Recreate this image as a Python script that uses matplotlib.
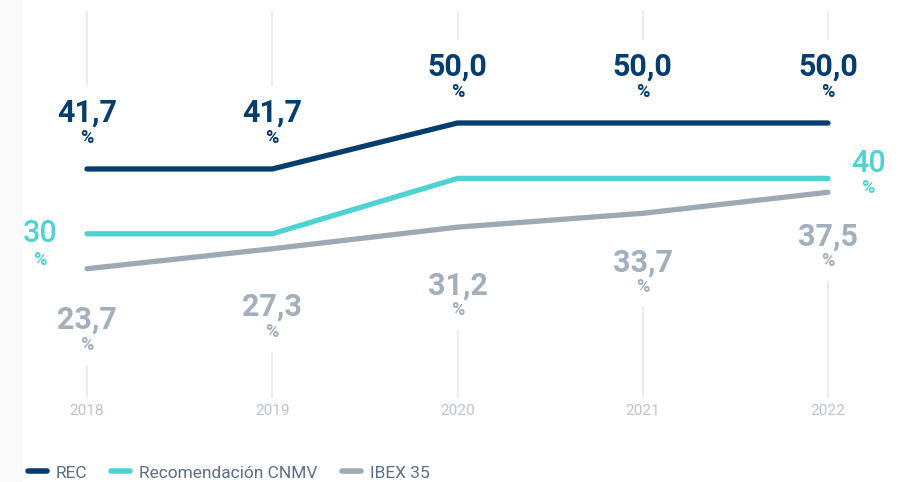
import matplotlib.pyplot as plt
from matplotlib.patches import Rectangle

# Data
years = [2018, 2019, 2020, 2021, 2022]
rec = [41.7, 41.7, 50.0, 50.0, 50.0]
cnmv = [30, 30, 40, 40, 40]
ibex = [23.7, 27.3, 31.2, 33.7, 37.5]
rec_labels = ["41,7", "41,7", "50,0", "50,0", "50,0"]
ibex_labels = ["23,7", "27,3", "31,2", "33,7", "37,5"]
cnmv_labels = ["30", "40"]

c_rec = "#053d6e"
c_cnmv = "#4fd2d2"
c_ibex = "#9ea9b5"
c_ibex_txt = "#a3afbb"
c_grid = "#e8eaec"

plt.rcParams["font.family"] = ["Roboto", "DejaVu Sans"]

fig = plt.figure(figsize=(9.11, 4.82), dpi=100)
ax = fig.add_axes([0, 0, 1, 1])
fig.patches.append(Rectangle((0, 0), 22 / 911, 1, transform=fig.transFigure,
                             color="#fafafa", zorder=0))

ppy = 185.25   # pixels per year
ppu = 5.54     # pixels per percentage point
ax.set_xlim(2018 - 87 / ppy, 2018 + 824 / ppy)
ax.set_ylim((400 - 482) / ppu, 400 / ppu)
ax.axis("off")

# below-label offsets for IBEX (px)
ibex_off = [51, 58, 58, 49, 44]

# vertical grid segments (hidden behind the labels)
for i, x in enumerate(years):
    ax.plot([x, x], [rec[i] + 84 / ppu, (400 - 12) / ppu], color=c_grid, lw=1.3, zorder=1)
    low = ibex[i] - (ibex_off[i] + 25 + 21) / ppu
    ax.plot([x, x], [low, (400 - 397) / ppu], color=c_grid, lw=1.3, zorder=1)

ax.plot(years, rec, color=c_rec, lw=3.8, solid_capstyle="round", solid_joinstyle="round",
        label="REC", zorder=3)
ax.plot(years, cnmv, color=c_cnmv, lw=3.8, solid_capstyle="round", solid_joinstyle="round",
        label="Recomendación CNMV", zorder=3)
ax.plot(years, ibex, color=c_ibex, lw=3.8, solid_capstyle="round", solid_joinstyle="round",
        label="IBEX 35", zorder=2)

# REC labels
for x, y, t in zip(years, rec, rec_labels):
    ax.text(x, y + 56 / ppu, t, color=c_rec, fontsize=22, fontweight="bold",
            ha="center", va="center")
    ax.text(x, y + 31 / ppu, "%", color=c_rec, fontsize=13, fontweight="bold",
            ha="center", va="center")

# IBEX labels
for x, y, t, o in zip(years, ibex, ibex_labels, ibex_off):
    ax.text(x, y - o / ppu, t, color=c_ibex_txt, fontsize=22, fontweight="bold",
            ha="center", va="center")
    ax.text(x, y - (o + 25) / ppu, "%", color=c_ibex_txt, fontsize=13, fontweight="bold",
            ha="center", va="center")

# CNMV labels (first and last)
ax.text(years[0] - 47 / ppy, cnmv[0], cnmv_labels[0], color=c_cnmv, fontsize=22,
        fontweight="medium", ha="center", va="center")
ax.text(years[0] - 47 / ppy, cnmv[0] - 26 / ppu, "%", color=c_cnmv, fontsize=13,
        fontweight="bold", ha="center", va="center")
ax.text(years[-1] + 40 / ppy, cnmv[-1] + 15 / ppu, cnmv_labels[1], color=c_cnmv, fontsize=22,
        fontweight="medium", ha="center", va="center")
ax.text(years[-1] + 40 / ppy, cnmv[-1] - 10 / ppu, "%", color=c_cnmv, fontsize=13,
        fontweight="bold", ha="center", va="center")

# year labels
for x in years:
    ax.text(x, (400 - 411) / ppu, str(x), color="#b9c2cc", fontsize=11,
            ha="center", va="center")

leg = ax.legend(loc="center left", bbox_to_anchor=(12 / 911, 1 - 473 / 482),
                bbox_transform=fig.transFigure, ncol=3, frameon=False,
                handlelength=1.1, handletextpad=0.5, columnspacing=1.4,
                fontsize=12.5, labelcolor="#5b6f87")
for h in leg.get_lines():
    h.set_linewidth(4)
    h.set_solid_capstyle("round")

plt.savefig("out.png", dpi=100)
